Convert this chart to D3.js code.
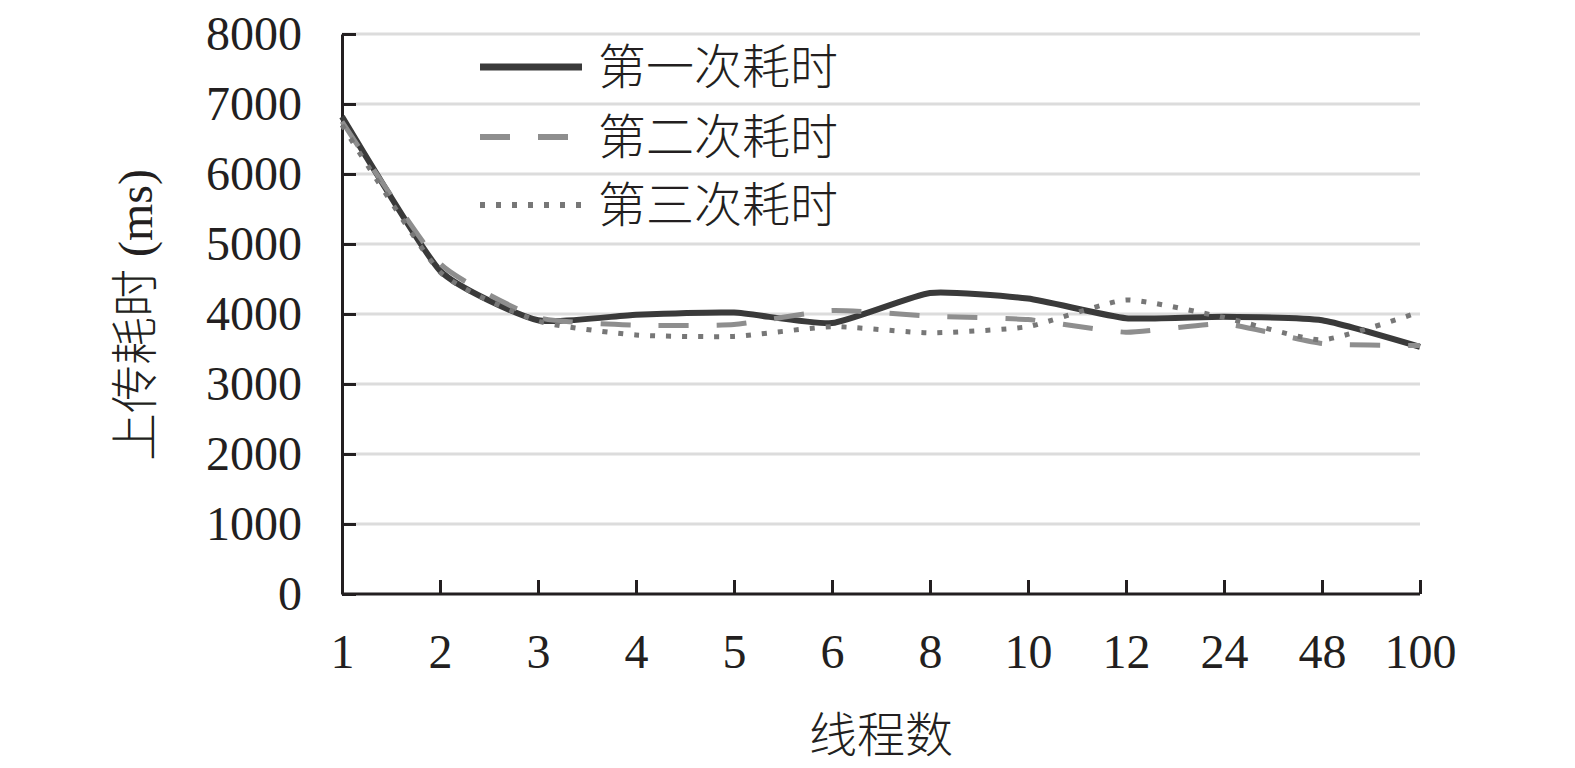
<!DOCTYPE html>
<html><head><meta charset="utf-8">
<script src="https://cdn.jsdelivr.net/npm/d3@7/dist/d3.min.js"></script>
<style>
html,body{margin:0;padding:0;background:#fff;overflow:hidden;}
svg{display:block;}
text{font-family:"Liberation Serif","Times New Roman","Noto Sans CJK SC",serif;fill:#231f20;}
</style></head>
<body><svg id="c" width="1575" height="768"></svg>
<script>
const categories = ["1","2","3","4","5","6","8","10","12","24","48","100"];
const run1 = [6820, 4620, 3910, 3990, 4020, 3870, 4300, 4220, 3940, 3960, 3910, 3530];
const run2 = [6750, 4720, 3950, 3840, 3850, 4050, 3970, 3920, 3740, 3860, 3580, 3550];
const run3 = [6700, 4600, 3900, 3700, 3680, 3820, 3730, 3820, 4200, 3950, 3630, 4030];
const seriesNames = ["第一次耗时","第二次耗时","第三次耗时"];
const yTicks = [0,1000,2000,3000,4000,5000,6000,7000,8000];
const yTitle = "上传耗时 (ms)";
const xTitle = "线程数";

const svg = d3.select("#c");
const x = d3.scalePoint().domain(categories).range([342,1420]);
const y = d3.scaleLinear().domain([0,8000]).range([594,34]);

// gridlines
svg.append("g").selectAll("line").data(yTicks.filter(d=>d>0)).join("line")
  .attr("x1",342).attr("x2",1420).attr("y1",d=>y(d)).attr("y2",d=>y(d))
  .attr("stroke","#dcdcdc").attr("stroke-width",3);

// y axis
const yAx = svg.append("g").attr("transform","translate(342,0)")
  .call(d3.axisLeft(y).tickValues(yTicks).tickFormat(d3.format("d")).tickSizeInner(-14).tickSizeOuter(0).tickPadding(40));
yAx.select(".domain").attr("stroke","#231f20").attr("stroke-width",3);
yAx.selectAll(".tick line").attr("stroke","#231f20").attr("stroke-width",3);
yAx.selectAll(".tick text").attr("font-size",48).attr("fill","#231f20")
  .attr("font-family","Liberation Serif, serif").attr("dy","0.33em");

// x axis
const xAx = svg.append("g").attr("transform","translate(0,594)")
  .call(d3.axisBottom(x).tickSizeInner(-14).tickSizeOuter(0).tickPadding(40));
xAx.select(".domain").attr("stroke","#231f20").attr("stroke-width",3).attr("d","M342,0H1420");
xAx.selectAll(".tick line").attr("stroke","#231f20").attr("stroke-width",3);
xAx.selectAll(".tick text").attr("font-size",48).attr("fill","#231f20")
  .attr("font-family","Liberation Serif, serif").attr("dy","0.71em");

// lines
const styles = [
  {color:"#3a3a3a", dash:null, w:6},
  {color:"#8e8e8e", dash:"30,28", w:5},
  {color:"#777777", dash:"5,11", w:5}
];
const data = [run1, run2, run3];
const line = d3.line().x((d,i)=>x(categories[i])).y(d=>y(d)).curve(d3.curveCardinal.tension(0.5));
data.forEach((s,k)=>{
  svg.append("path").attr("d",line(s)).attr("fill","none")
    .attr("stroke",styles[k].color).attr("stroke-width",styles[k].w)
    .attr("stroke-dasharray",styles[k].dash);
});

// legend
const ly = [67,137,205];
seriesNames.forEach((n,k)=>{
  svg.append("line").attr("x1",480).attr("x2",582).attr("y1",ly[k]).attr("y2",ly[k])
    .attr("stroke",styles[k].color).attr("stroke-width",k===0?7:6)
    .attr("stroke-dasharray",styles[k].dash);
  svg.append("text").attr("x",598).attr("y",ly[k]).attr("dy","0.36em")
    .attr("font-size",48).attr("font-weight",300).attr("font-family","Noto Sans CJK SC, sans-serif").text(n);
});

// axis titles
svg.append("text").attr("transform","translate(135,315) rotate(-90)")
  .attr("text-anchor","middle").attr("dy","0.36em").attr("font-size",48).attr("font-weight",300)
  .attr("font-family","Liberation Serif, Noto Sans CJK SC, serif").text(yTitle);
svg.append("text").attr("x",881).attr("y",735).attr("text-anchor","middle").attr("dy","0.36em")
  .attr("font-size",48).attr("font-weight",300).attr("font-family","Noto Sans CJK SC, sans-serif").text(xTitle);
</script></body></html>
